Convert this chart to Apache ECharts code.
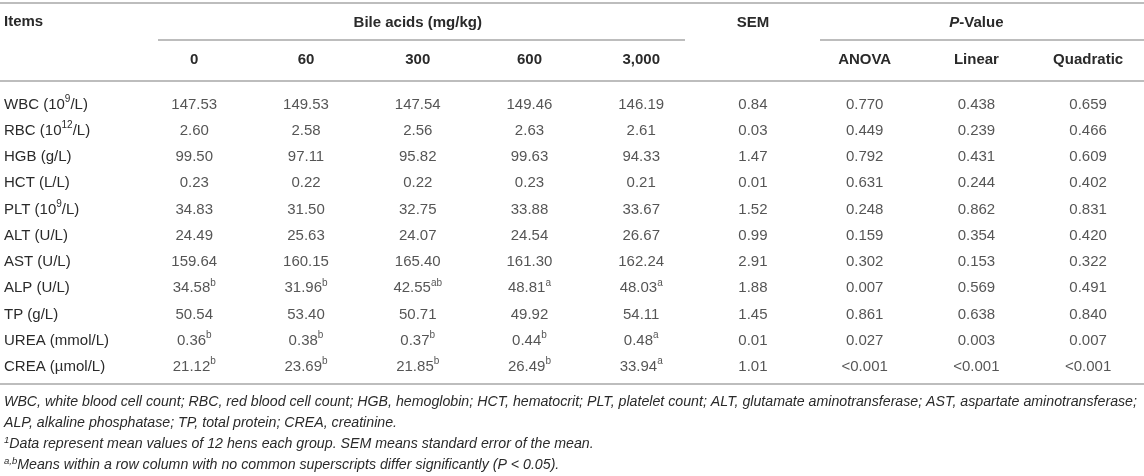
<!DOCTYPE html>
<html><head><meta charset="utf-8">
<script src="https://cdn.jsdelivr.net/npm/echarts@6/dist/echarts.min.js"></script>
<style>html,body{margin:0;padding:0;background:#fff}#c{width:1144px;height:476px}</style>
</head><body><div id="c"></div>
<script>
// ---- data ----
const columns = ['0', '60', '300', '600', '3,000', '', 'ANOVA', 'Linear', 'Quadratic'];
const groupHeaders = ['', '', 'Bile acids (mg/kg)', '', '', 'SEM', '', '*P*-Value', ''];
const items = ['WBC (10^9/L)', 'RBC (10^12/L)', 'HGB (g/L)', 'HCT (L/L)', 'PLT (10^9/L)', 'ALT (U/L)',
  'AST (U/L)', 'ALP (U/L)', 'TP (g/L)', 'UREA (mmol/L)', 'CREA (\u00b5mol/L)'];
const bile0    = [147.53, 2.60, 99.50, 0.23, 34.83, 24.49, 159.64, 34.58, 50.54, 0.36, 21.12];
const bile60   = [149.53, 2.58, 97.11, 0.22, 31.50, 25.63, 160.15, 31.96, 53.40, 0.38, 23.69];
const bile300  = [147.54, 2.56, 95.82, 0.22, 32.75, 24.07, 165.40, 42.55, 50.71, 0.37, 21.85];
const bile600  = [149.46, 2.63, 99.63, 0.23, 33.88, 24.54, 161.30, 48.81, 49.92, 0.44, 26.49];
const bile3000 = [146.19, 2.61, 94.33, 0.21, 33.67, 26.67, 162.24, 48.03, 54.11, 0.48, 33.94];
const sem      = [0.84, 0.03, 1.47, 0.01, 1.52, 0.99, 2.91, 1.88, 1.45, 0.01, 1.01];
const pAnova   = [0.770, 0.449, 0.792, 0.631, 0.248, 0.159, 0.302, 0.007, 0.861, 0.027, '<0.001'];
const pLinear  = [0.438, 0.239, 0.431, 0.244, 0.862, 0.354, 0.153, 0.569, 0.638, 0.003, '<0.001'];
const pQuad    = [0.659, 0.466, 0.609, 0.402, 0.831, 0.420, 0.322, 0.491, 0.840, 0.007, '<0.001'];
const sup0    = ['', '', '', '', '', '', '', 'b', '', 'b', 'b'];
const sup60   = ['', '', '', '', '', '', '', 'b', '', 'b', 'b'];
const sup300  = ['', '', '', '', '', '', '', 'ab', '', 'b', 'b'];
const sup600  = ['', '', '', '', '', '', '', 'a', '', 'b', 'b'];
const sup3000 = ['', '', '', '', '', '', '', 'a', '', 'a', 'a'];
const footnotes = [
  'WBC, white blood cell count; RBC, red blood cell count; HGB, hemoglobin; HCT, hematocrit; PLT, platelet count; ALT, glutamate aminotransferase; AST, aspartate aminotransferase;',
  'ALP, alkaline phosphatase; TP, total protein; CREA, creatinine.',
  '^1Data represent mean values of 12 hens each group. SEM means standard error of the mean.',
  '^a,bMeans within a row column with no common superscripts differ significantly (P < 0.05).'
];

// ---- layout / style ----
const W = 1144;
const GRID_LEFT = 138.4, GRID_TOP = 91.4, CELL_W = 112.6, ROW_H = 26.25;
const FS = 15, FOOT_FS = 14.2;
const TXT = '#2a2a2a', RULE = '#bdbdbd';
const FONT = '"Liberation Sans", Arial, Helvetica, sans-serif';

const colValues = [bile0, bile60, bile300, bile600, bile3000, sem, pAnova, pLinear, pQuad];
const colDecimals = [2, 2, 2, 2, 2, 2, 3, 3, 3];
const colSups = [sup0, sup60, sup300, sup600, sup3000, null, null, null, null];

const supRich = { fontSize: 10, lineHeight: 15, verticalAlign: 'top', color: TXT, fontFamily: FONT };

function supMarkup(s) {
  return s.replace(/\^([0-9a-z,]+)/g, (m, g) => '{sup|' + g + '}');
}

const series = colValues.map((vals, ci) => ({
  type: 'scatter',
  symbolSize: 0,
  silent: true,
  animation: false,
  data: vals.map((v, ri) => [ci, ri, v, colSups[ci] ? colSups[ci][ri] : '']),
  label: {
    show: true,
    position: 'inside',
    color: TXT,
    fontSize: FS,
    lineHeight: 21,
    fontFamily: FONT,
    formatter: p => {
      const v = p.data[2];
      let s = typeof v === 'number' ? v.toFixed(colDecimals[ci]) : v;
      if (p.data[3]) s += '{sup|' + p.data[3] + '}';
      return s;
    },
    rich: { sup: supRich }
  }
}));

const headerBottom = 78.5;
const option = {
  animation: false,
  backgroundColor: '#fff',
  textStyle: { fontFamily: FONT },
  title: { text: 'Items', left: 4, top: 14, padding: 0,
    textStyle: { fontSize: FS, fontWeight: 'bold', color: TXT, fontFamily: FONT } },
  grid: { left: GRID_LEFT, top: GRID_TOP, width: CELL_W * columns.length, height: ROW_H * items.length },
  xAxis: {
    type: 'category', position: 'top', data: columns,
    axisLine: { show: false }, axisTick: { show: false }, splitLine: { show: false },
    axisLabel: {
      interval: 0, margin: GRID_TOP - headerBottom, verticalAlign: 'bottom',
      color: TXT, fontSize: FS, fontWeight: 'bold', fontFamily: FONT,
      formatter: (val, idx) => {
        const g = groupHeaders[idx] || ' ';
        let first;
        if (g.indexOf('*') >= 0) {
          const parts = g.split('*');
          first = (parts[0] ? '{h1|' + parts[0] + '}' : '') + '{h1i|' + parts[1] + '}{h1|' + parts[2] + '}';
        } else {
          first = '{h1|' + g + '}';
        }
        return first + '\n{h2|' + (val || ' ') + '}';
      },
      rich: {
        h1: { fontSize: FS, fontWeight: 'bold', lineHeight: 37, color: TXT, fontFamily: FONT },
        h1i: { fontSize: FS, fontWeight: 'bold', fontStyle: 'italic', lineHeight: 37, color: TXT, fontFamily: FONT },
        h2: { fontSize: FS, fontWeight: 'bold', lineHeight: 37, color: TXT, fontFamily: FONT }
      }
    }
  },
  yAxis: {
    type: 'category', inverse: true, data: items,
    axisLine: { show: false }, axisTick: { show: false }, splitLine: { show: false },
    axisLabel: {
      interval: 0, align: 'left', margin: GRID_LEFT - 4,
      color: TXT, fontSize: FS, lineHeight: 21, fontFamily: FONT,
      formatter: v => supMarkup(v),
      rich: { sup: supRich }
    }
  },
  series: series,
  graphic: []
};

// table rules and footnotes
const rules = [
  [0, 3, W, 3],
  [158, 40, 685, 40],
  [820, 40, W, 40],
  [0, 81, W, 81],
  [0, 384, W, 384]
];
rules.forEach(r => option.graphic.push({
  type: 'line', silent: true,
  shape: { x1: r[0], y1: r[1], x2: r[2], y2: r[3] },
  style: { stroke: RULE, lineWidth: 1.8 }
}));
const footY = [402, 423, 444, 465];
footnotes.forEach((t, i) => option.graphic.push({
  type: 'text', left: 4, top: footY[i] - 9, silent: true,
  style: {
    text: supMarkup(t).replace('(P <', '({pi|P} <'),
    fontSize: FOOT_FS, fontStyle: 'italic', fill: TXT, fontFamily: FONT, lineHeight: 18,
    rich: {
      sup: { fontSize: 9.5, lineHeight: 13, verticalAlign: 'top', fontStyle: 'italic', fill: TXT, fontFamily: FONT },
      pi: { fontSize: FOOT_FS, fontStyle: 'italic', fill: TXT, fontFamily: FONT, lineHeight: 18 }
    }
  }
}));

const chart = echarts.init(document.getElementById('c'), null, { renderer: 'canvas' });
chart.setOption(option);
</script>
</body></html>
